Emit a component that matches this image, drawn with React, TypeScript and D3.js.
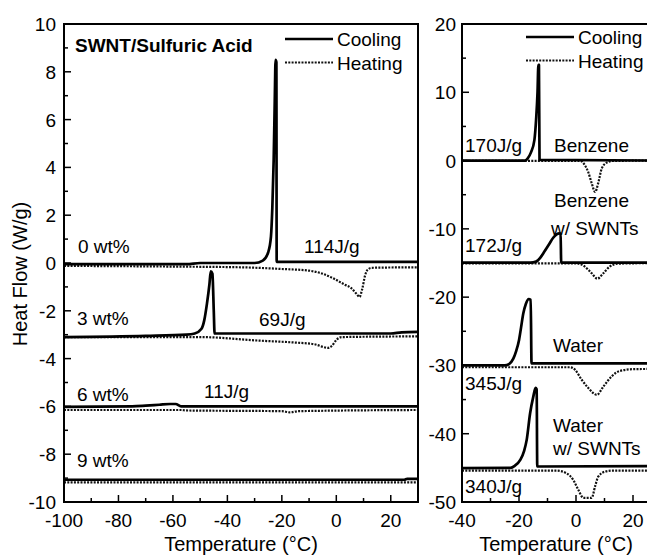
import React from 'react';
import * as d3 from 'd3';

type Pt = [number, number];

// Left panel: SWNT / sulfuric acid, temperature (°C) vs heat flow (W/g)
const cool0: Pt[] = [[-100, -0.05], [-55, -0.05], [-50, 0], [-30, 0], [-27, 0.1], [-25, 0.45], [-24, 1.1], [-23.5, 2.3], [-23, 4.3], [-22.6, 6.8], [-22.3, 8.5], [-22.0, 8.4], [-21.9, 0.05], [30, 0.05]];
const heat0: Pt[] = [[-100, -0.12], [-60, -0.15], [-35, -0.18], [-20, -0.25], [-10, -0.32], [-5, -0.45], [-1, -0.65], [3, -0.9], [5.5, -1.05], [7.5, -1.3], [8.5, -1.42], [9.5, -1.1], [10.5, -0.55], [11.5, -0.28], [13, -0.2], [30, -0.18]];
const cool3: Pt[] = [[-100, -3.1], [-70, -3.05], [-55, -3.0], [-52, -2.95], [-49.5, -2.75], [-48.5, -2.4], [-47.5, -1.7], [-46.6, -0.9], [-46.1, -0.35], [-45.5, -0.45], [-45.0, -2.0], [-44.7, -2.95], [20, -2.95], [24, -2.9], [30, -2.88]];
const heat3: Pt[] = [[-100, -3.1], [-50, -3.1], [-28, -3.25], [-15, -3.33], [-8, -3.4], [-3, -3.55], [-1.5, -3.45], [0, -3.22], [2, -3.1], [30, -3.07]];
const cool6: Pt[] = [[-100, -6.02], [-75, -6.0], [-70, -5.97], [-65, -5.93], [-61, -5.9], [-59, -5.9], [-57, -6.0], [30, -6.0]];
const heat6: Pt[] = [[-100, -6.15], [-57, -6.15], [-55, -6.17], [-20, -6.2], [-17, -6.25], [-14, -6.2], [30, -6.15]];
const cool9: Pt[] = [[-100, -9.07], [25, -9.07], [26, -9.03], [30, -9.03]];
const heat9: Pt[] = [[-100, -9.18], [30, -9.18]];

// Right panel: benzene and water, with and without SWNTs
const coolBz: Pt[] = [[-40, 0], [-18, 0], [-17, 0.3], [-15.8, 1.2], [-14.6, 3], [-14, 6], [-13.5, 10], [-13.2, 14], [-13.0, 14], [-12.8, 0.1], [30, 0]];
const heatBz: Pt[] = [[-40, -0.05], [1.5, -0.05], [3, -0.6], [4.3, -1.7], [5.5, -3.3], [6.7, -4.6], [7.8, -3.3], [9, -1.2], [10.8, -0.3], [13, -0.05], [30, 0]];
const coolBzS: Pt[] = [[-40, -14.95], [-16, -14.95], [-14, -14.8], [-12.5, -14.2], [-11.2, -13.4], [-9.5, -12.3], [-8, -11.3], [-6.8, -10.8], [-5.9, -10.65], [-5.4, -10.7], [-5.2, -14.95], [30, -14.95]];
const heatBzS: Pt[] = [[-40, -15.05], [0, -15.05], [3, -15.5], [5.5, -16.5], [7.5, -17.3], [9.6, -16.5], [11.9, -15.5], [14.9, -15.1], [30, -15]];
const coolW: Pt[] = [[-40, -30], [-25, -30], [-23.5, -29.8], [-22, -29], [-21, -27.9], [-20, -26.3], [-19.3, -24.5], [-18.5, -22.4], [-17.6, -21], [-16.6, -20.3], [-15.9, -20.4], [-15.6, -29.7], [30, -29.7]];
const heatW: Pt[] = [[-40, -30.27], [-2, -30.27], [-0.3, -30.65], [2, -32.1], [4.3, -33.3], [7.3, -34.3], [9.6, -33.1], [12.5, -31.6], [15.4, -30.8], [20, -30.55], [30, -30.5]];
const coolWS: Pt[] = [[-40, -45.05], [-23, -45], [-21.5, -44.7], [-19.5, -43.8], [-18.2, -42.5], [-17.3, -40.9], [-16.1, -37], [-15, -34.6], [-14.2, -33.3], [-13.8, -33.5], [-13.6, -44.8], [30, -44.75]];
const heatWS: Pt[] = [[-40, -45.4], [-6.8, -45.4], [-3.3, -45.8], [-0.9, -46.8], [0.8, -48.2], [2.6, -49.4], [5.5, -49.4], [6.7, -47.7], [7.8, -46.3], [10.2, -45.55], [13, -45.4], [30, -45.4]];

const leftCooling = [cool0, cool3, cool6, cool9];
const leftHeating = [heat0, heat3, heat6, heat9];
const rightCooling = [coolBz, coolBzS, coolW, coolWS];
const rightHeating = [heatBz, heatBzS, heatW, heatWS];

const leftXTicks = [-100, -80, -60, -40, -20, 0, 20];
const leftYTicks = [10, 8, 6, 4, 2, 0, -2, -4, -6, -8, -10];
const rightXTicks = [-40, -20, 0, 20];
const rightYTicks = [20, 10, 0, -10, -20, -30, -40, -50];

const legendNames = ['Cooling', 'Heating'];

const FONT = '"Liberation Sans", Arial, Helvetica, sans-serif';
const DOT = '2 1.3';

interface PanelProps {
  x0: number; x1: number; y0: number; y1: number;
  xDomain: [number, number]; yDomain: [number, number];
  xTicks: number[]; yTicks: number[];
  xMinor: number; yMinor: number;
  cooling: Pt[][]; heating: Pt[][];
  labelEnd: number;
}

const Panel: React.FC<PanelProps> = (p) => {
  const x = d3.scaleLinear().domain(p.xDomain).range([p.x0, p.x1]);
  const y = d3.scaleLinear().domain(p.yDomain).range([p.y1, p.y0]);
  const line = d3.line<Pt>().x(d => x(d[0])).y(d => y(d[1])).curve(d3.curveMonotoneX);
  const xMinorTicks = d3.range(p.xDomain[0], p.xDomain[1] + 0.001, p.xMinor).filter(v => !p.xTicks.includes(v));
  const yMinorTicks = d3.range(p.yDomain[0], p.yDomain[1] + 0.001, p.yMinor).filter(v => !p.yTicks.includes(v));
  const clipId = `clip${p.x0}`;
  return (
    <g>
      <defs>
        <clipPath id={clipId}>
          <rect x={p.x0} y={p.y0} width={p.x1 - p.x0} height={p.y1 - p.y0} />
        </clipPath>
      </defs>
      <g clipPath={`url(#${clipId})`} fill="none">
        {p.heating.map((s, i) => (
          <path key={'h' + i} d={line(s) || ''} stroke="#111" strokeWidth={2.2} strokeDasharray={DOT} />
        ))}
        {p.cooling.map((s, i) => (
          <path key={'c' + i} d={line(s) || ''} stroke="#000" strokeWidth={2.7} strokeLinejoin="round" />
        ))}
      </g>
      <rect x={p.x0} y={p.y0} width={p.x1 - p.x0} height={p.y1 - p.y0} fill="none" stroke="#000" strokeWidth={2} />
      {p.xTicks.map(t => (
        <g key={'xt' + t}>
          <line x1={x(t)} x2={x(t)} y1={p.y1} y2={p.y1 - 7} stroke="#000" strokeWidth={1.5} />
          <text x={x(t)} y={527} textAnchor="middle" fontSize={19} fontFamily={FONT}>{t}</text>
        </g>
      ))}
      {xMinorTicks.map(t => (
        <line key={'xm' + t} x1={x(t)} x2={x(t)} y1={p.y1} y2={p.y1 - 4} stroke="#000" strokeWidth={1.5} />
      ))}
      {p.yTicks.map(t => (
        <g key={'yt' + t}>
          <line x1={p.x0} x2={p.x0 + 7} y1={y(t)} y2={y(t)} stroke="#000" strokeWidth={1.5} />
          <text x={p.labelEnd} y={y(t) + 7} textAnchor="end" fontSize={19} fontFamily={FONT}>{t}</text>
        </g>
      ))}
      {yMinorTicks.map(t => (
        <line key={'ym' + t} x1={p.x0} x2={p.x0 + 4} y1={y(t)} y2={y(t)} stroke="#000" strokeWidth={1.5} />
      ))}
    </g>
  );
};

const Legend: React.FC<{ x: number; y: number }> = ({ x, y }) => (
  <g fontFamily={FONT} fontSize={19}>
    {legendNames.map((n, i) => (
      <g key={n}>
        <line x1={x} x2={x + 48} y1={y + i * 23.5} y2={y + i * 23.5} stroke={i === 0 ? '#000' : '#111'}
          strokeWidth={i === 0 ? 2.7 : 2.2} strokeDasharray={i === 0 ? undefined : DOT} />
        <text x={x + 52} y={y + i * 23.5 + 7}>{n}</text>
      </g>
    ))}
  </g>
);

const App: React.FC = () => {
  const txt = { fontFamily: FONT, fontSize: 19 };
  return (
    <svg width={647} height={557} style={{ position: 'absolute', left: 0, top: 0, background: '#fff' }}>
      <rect width={647} height={557} fill="#fff" />
      <Panel x0={64} x1={418} y0={24} y1={502} xDomain={[-100, 30]} yDomain={[-10, 10]}
        xTicks={leftXTicks} yTicks={leftYTicks} xMinor={10} yMinor={1}
        cooling={leftCooling} heating={leftHeating} labelEnd={56} />
      <Panel x0={462} x1={661.5} y0={24} y1={502} xDomain={[-40, 30]} yDomain={[-50, 20]}
        xTicks={rightXTicks} yTicks={rightYTicks} xMinor={10} yMinor={5}
        cooling={rightCooling} heating={rightHeating} labelEnd={456} />

      <Legend x={285} y={39} />
      <Legend x={526} y={37} />

      <text x={75} y={52} fontFamily={FONT} fontSize={19} fontWeight="bold">SWNT/Sulfuric Acid</text>

      <g {...txt}>
        <text x={78} y={253}>0 wt%</text>
        <text x={304} y={253}>114J/g</text>
        <text x={77} y={325}>3 wt%</text>
        <text x={259} y={326}>69J/g</text>
        <text x={77} y={401}>6 wt%</text>
        <text x={204} y={398}>11J/g</text>
        <text x={77} y={467}>9 wt%</text>

        <text x={465} y={152}>170J/g</text>
        <text x={554} y={152}>Benzene</text>
        <text x={554} y={207}>Benzene</text>
        <text x={551} y={235}>w/ SWNTs</text>
        <text x={465} y={252}>172J/g</text>
        <text x={553} y={352}>Water</text>
        <text x={465} y={390}>345J/g</text>
        <text x={553} y={432}>Water</text>
        <text x={553} y={455}>w/ SWNTs</text>
        <text x={465} y={493}>340J/g</text>
      </g>

      <text x={241} y={551} textAnchor="middle" fontFamily={FONT} fontSize={20}>Temperature (°C)</text>
      <text x={556} y={551} textAnchor="middle" fontFamily={FONT} fontSize={20}>Temperature (°C)</text>
      <text transform="translate(27,274) rotate(-90)" textAnchor="middle" fontFamily={FONT} fontSize={20}>Heat Flow (W/g)</text>
    </svg>
  );
};

export default App;
